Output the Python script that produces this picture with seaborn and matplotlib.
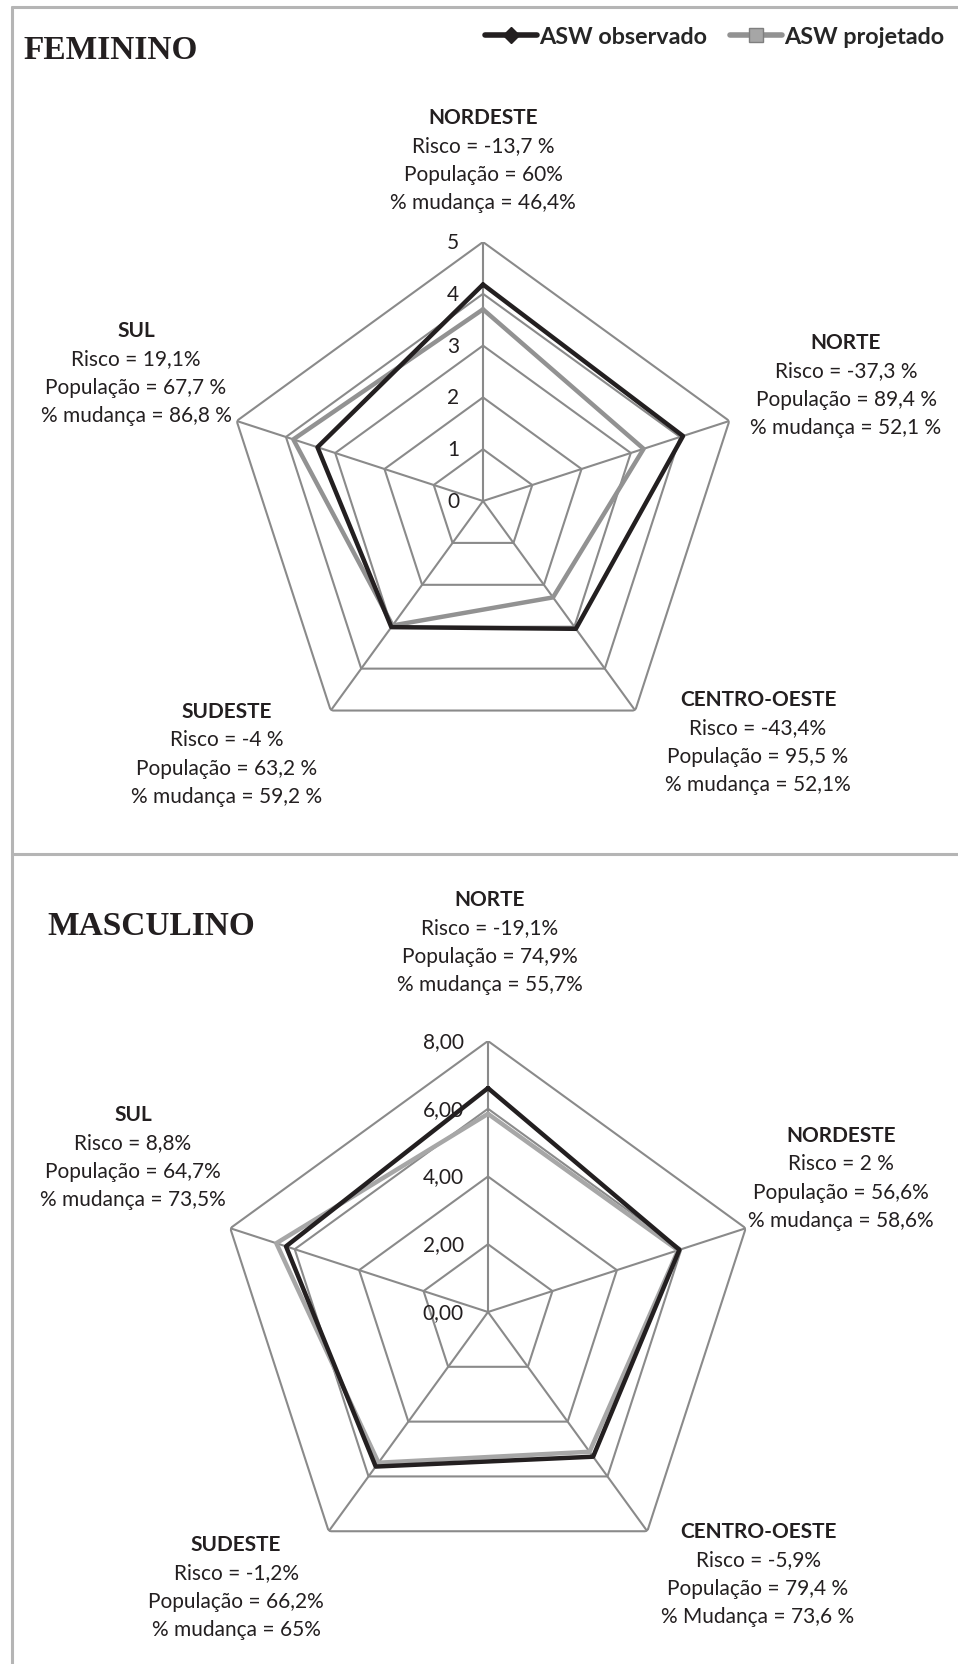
import numpy as np
import matplotlib
matplotlib.use("Agg")
import matplotlib.pyplot as plt
import seaborn as sns
from matplotlib.lines import Line2D

# ---------------- data ----------------
fem_regions = ["NORDESTE", "NORTE", "CENTRO-OESTE", "SUDESTE", "SUL"]
fem_observado = [4.18, 4.06, 3.05, 3.01, 3.36]
fem_projetado = [3.70, 3.26, 2.30, 2.97, 3.85]
fem_ticks = [0, 1, 2, 3, 4, 5]
fem_ticklabels = ["0", "1", "2", "3", "4", "5"]
fem_info = [
    ["Risco = -13,7 %", "População = 60%", "% mudança = 46,4%"],
    ["Risco = -37,3 %", "População = 89,4 %", "% mudança = 52,1 %"],
    ["Risco = -43,4%", "População = 95,5 %", "% mudança = 52,1%"],
    ["Risco = -4 %", "População = 63,2 %", "% mudança = 59,2 %"],
    ["Risco = 19,1%", "População = 67,7 %", "% mudança = 86,8 %"],
]

mas_regions = ["NORTE", "NORDESTE", "CENTRO-OESTE", "SUDESTE", "SUL"]
mas_observado = [6.61, 5.94, 5.28, 5.64, 6.27]
mas_projetado = [5.85, 5.90, 5.10, 5.50, 6.57]
mas_ticks = [0, 2, 4, 6, 8]
mas_ticklabels = ["0,00", "2,00", "4,00", "6,00", "8,00"]
mas_info = [
    ["Risco = -19,1%", "População = 74,9%", "% mudança = 55,7%"],
    ["Risco = 2 %", "População = 56,6%", "% mudança = 58,6%"],
    ["Risco = -5,9%", "População = 79,4 %", "% Mudança = 73,6 %"],
    ["Risco = -1,2%", "População = 66,2%", "% mudança = 65%"],
    ["Risco = 8,8%", "População = 64,7%", "% mudança = 73,5%"],
]

series_names = ["ASW observado", "ASW projetado"]

# ---------------- style ----------------
sns.set_style("white")
plt.rcParams["font.family"] = ["Lato", "DejaVu Sans"]

W, H = 958, 1665
fig = plt.figure(figsize=(W / 100, H / 100), dpi=100)

GRID = "#8a8a8a"
OBS = "#231f20"
PROJ_TOP = "#929292"
PROJ_BOT = "#a7a7a7"
BODY_FS = 15


def fx(x):
    return x / W


def fy(y):
    return 1 - y / H


def radar(cx, cy, rad, regions, obs, proj, ticks, ticklabels, proj_color):
    ax = fig.add_axes([fx(cx - rad), fy(cy + rad), 2 * rad / W, 2 * rad / H],
                      projection="polar")
    ax.set_theta_zero_location("N")
    ax.set_theta_direction(-1)
    n = len(regions)
    ang = np.linspace(0, 2 * np.pi, n, endpoint=False)
    angc = np.append(ang, ang[0])
    rmax = ticks[-1]
    # polygon grid
    for lv in ticks[1:]:
        ax.plot(angc, [lv] * (n + 1), color=GRID, lw=1.5, zorder=1)
    for a in ang:
        ax.plot([a, a], [0, rmax], color=GRID, lw=1.5, zorder=1)
    # series
    sns.lineplot(x=angc, y=np.append(proj, proj[0]), sort=False, ax=ax,
                 color=proj_color, lw=3.2, zorder=3, estimator=None)
    sns.lineplot(x=angc, y=np.append(obs, obs[0]), sort=False, ax=ax,
                 color=OBS, lw=3.2, zorder=4, estimator=None)
    ax.set_ylim(0, rmax)
    ax.grid(False)
    ax.spines["polar"].set_visible(False)
    ax.set_xticks([])
    ax.set_yticks([])
    ax.set_xlabel("")
    ax.set_ylabel("")
    ax.patch.set_alpha(0)
    for t, lab in zip(ticks, ticklabels):
        ax.annotate(lab, xy=(0, t), xytext=(-24, 0), textcoords="offset pixels",
                    ha="right", va="center", fontsize=BODY_FS, color="#231f20",
                    zorder=5)
    return ax


def block(x, y, region, lines):
    fig.text(fx(x), fy(y), region, ha="center", va="center",
             fontsize=BODY_FS, fontweight="bold", color="#231f20")
    for i, ln in enumerate(lines):
        fig.text(fx(x), fy(y + 28.4 * (i + 1)), ln, ha="center", va="center",
                 fontsize=BODY_FS, color="#231f20")


# top radar (feminino)
radar(483, 502, 259, fem_regions, fem_observado, fem_projetado,
      fem_ticks, fem_ticklabels, PROJ_TOP)
fem_pos = [(483, 118), (846, 343), (758, 700), (227, 712), (136, 331)]
for (x, y), reg, info in zip(fem_pos, fem_regions, fem_info):
    block(x, y, reg, info)

# bottom radar (masculino)
radar(488, 1313, 271, mas_regions, mas_observado, mas_projetado,
      mas_ticks, mas_ticklabels, PROJ_BOT)
mas_pos = [(490, 900), (841, 1136), (758, 1532), (236, 1545), (133, 1115)]
for (x, y), reg, info in zip(mas_pos, mas_regions, mas_info):
    block(x, y, reg, info)

# titles
fig.text(fx(23), fy(59), "FEMININO", ha="left", va="baseline",
         fontsize=24, fontweight="bold", family="Liberation Serif", color="#231f20")
fig.text(fx(47), fy(935), "MASCULINO", ha="left", va="baseline",
         fontsize=24, fontweight="bold", family="Liberation Serif", color="#231f20")

# frame lines
FRAME = "#b5b5b5"
fig.add_artist(Line2D([fx(12), fx(12)], [fy(8), 0], color=FRAME, lw=2.2))
fig.add_artist(Line2D([fx(12), 1], [fy(8), fy(8)], color=FRAME, lw=2.2))
fig.add_artist(Line2D([fx(12), 1], [fy(855), fy(855)], color=FRAME, lw=2.2))

# legend
handles = [
    Line2D([], [], color=OBS, lw=4, marker="D", markersize=8,
           markerfacecolor=OBS, markeredgecolor=OBS),
    Line2D([], [], color=PROJ_TOP, lw=4, marker="s", markersize=10,
           markerfacecolor="#a6a6a6", markeredgecolor="#7f7f7f"),
]
fig.legend(handles, series_names, loc="center right",
           bbox_to_anchor=(fx(944), fy(38)), ncol=2, frameon=False,
           borderaxespad=0, borderpad=0,
           prop={"family": "Lato", "weight": "bold", "size": 16.8},
           handlelength=2.2, handletextpad=0.1, columnspacing=1.0)

fig.savefig("out.png", dpi=100, facecolor="white")
